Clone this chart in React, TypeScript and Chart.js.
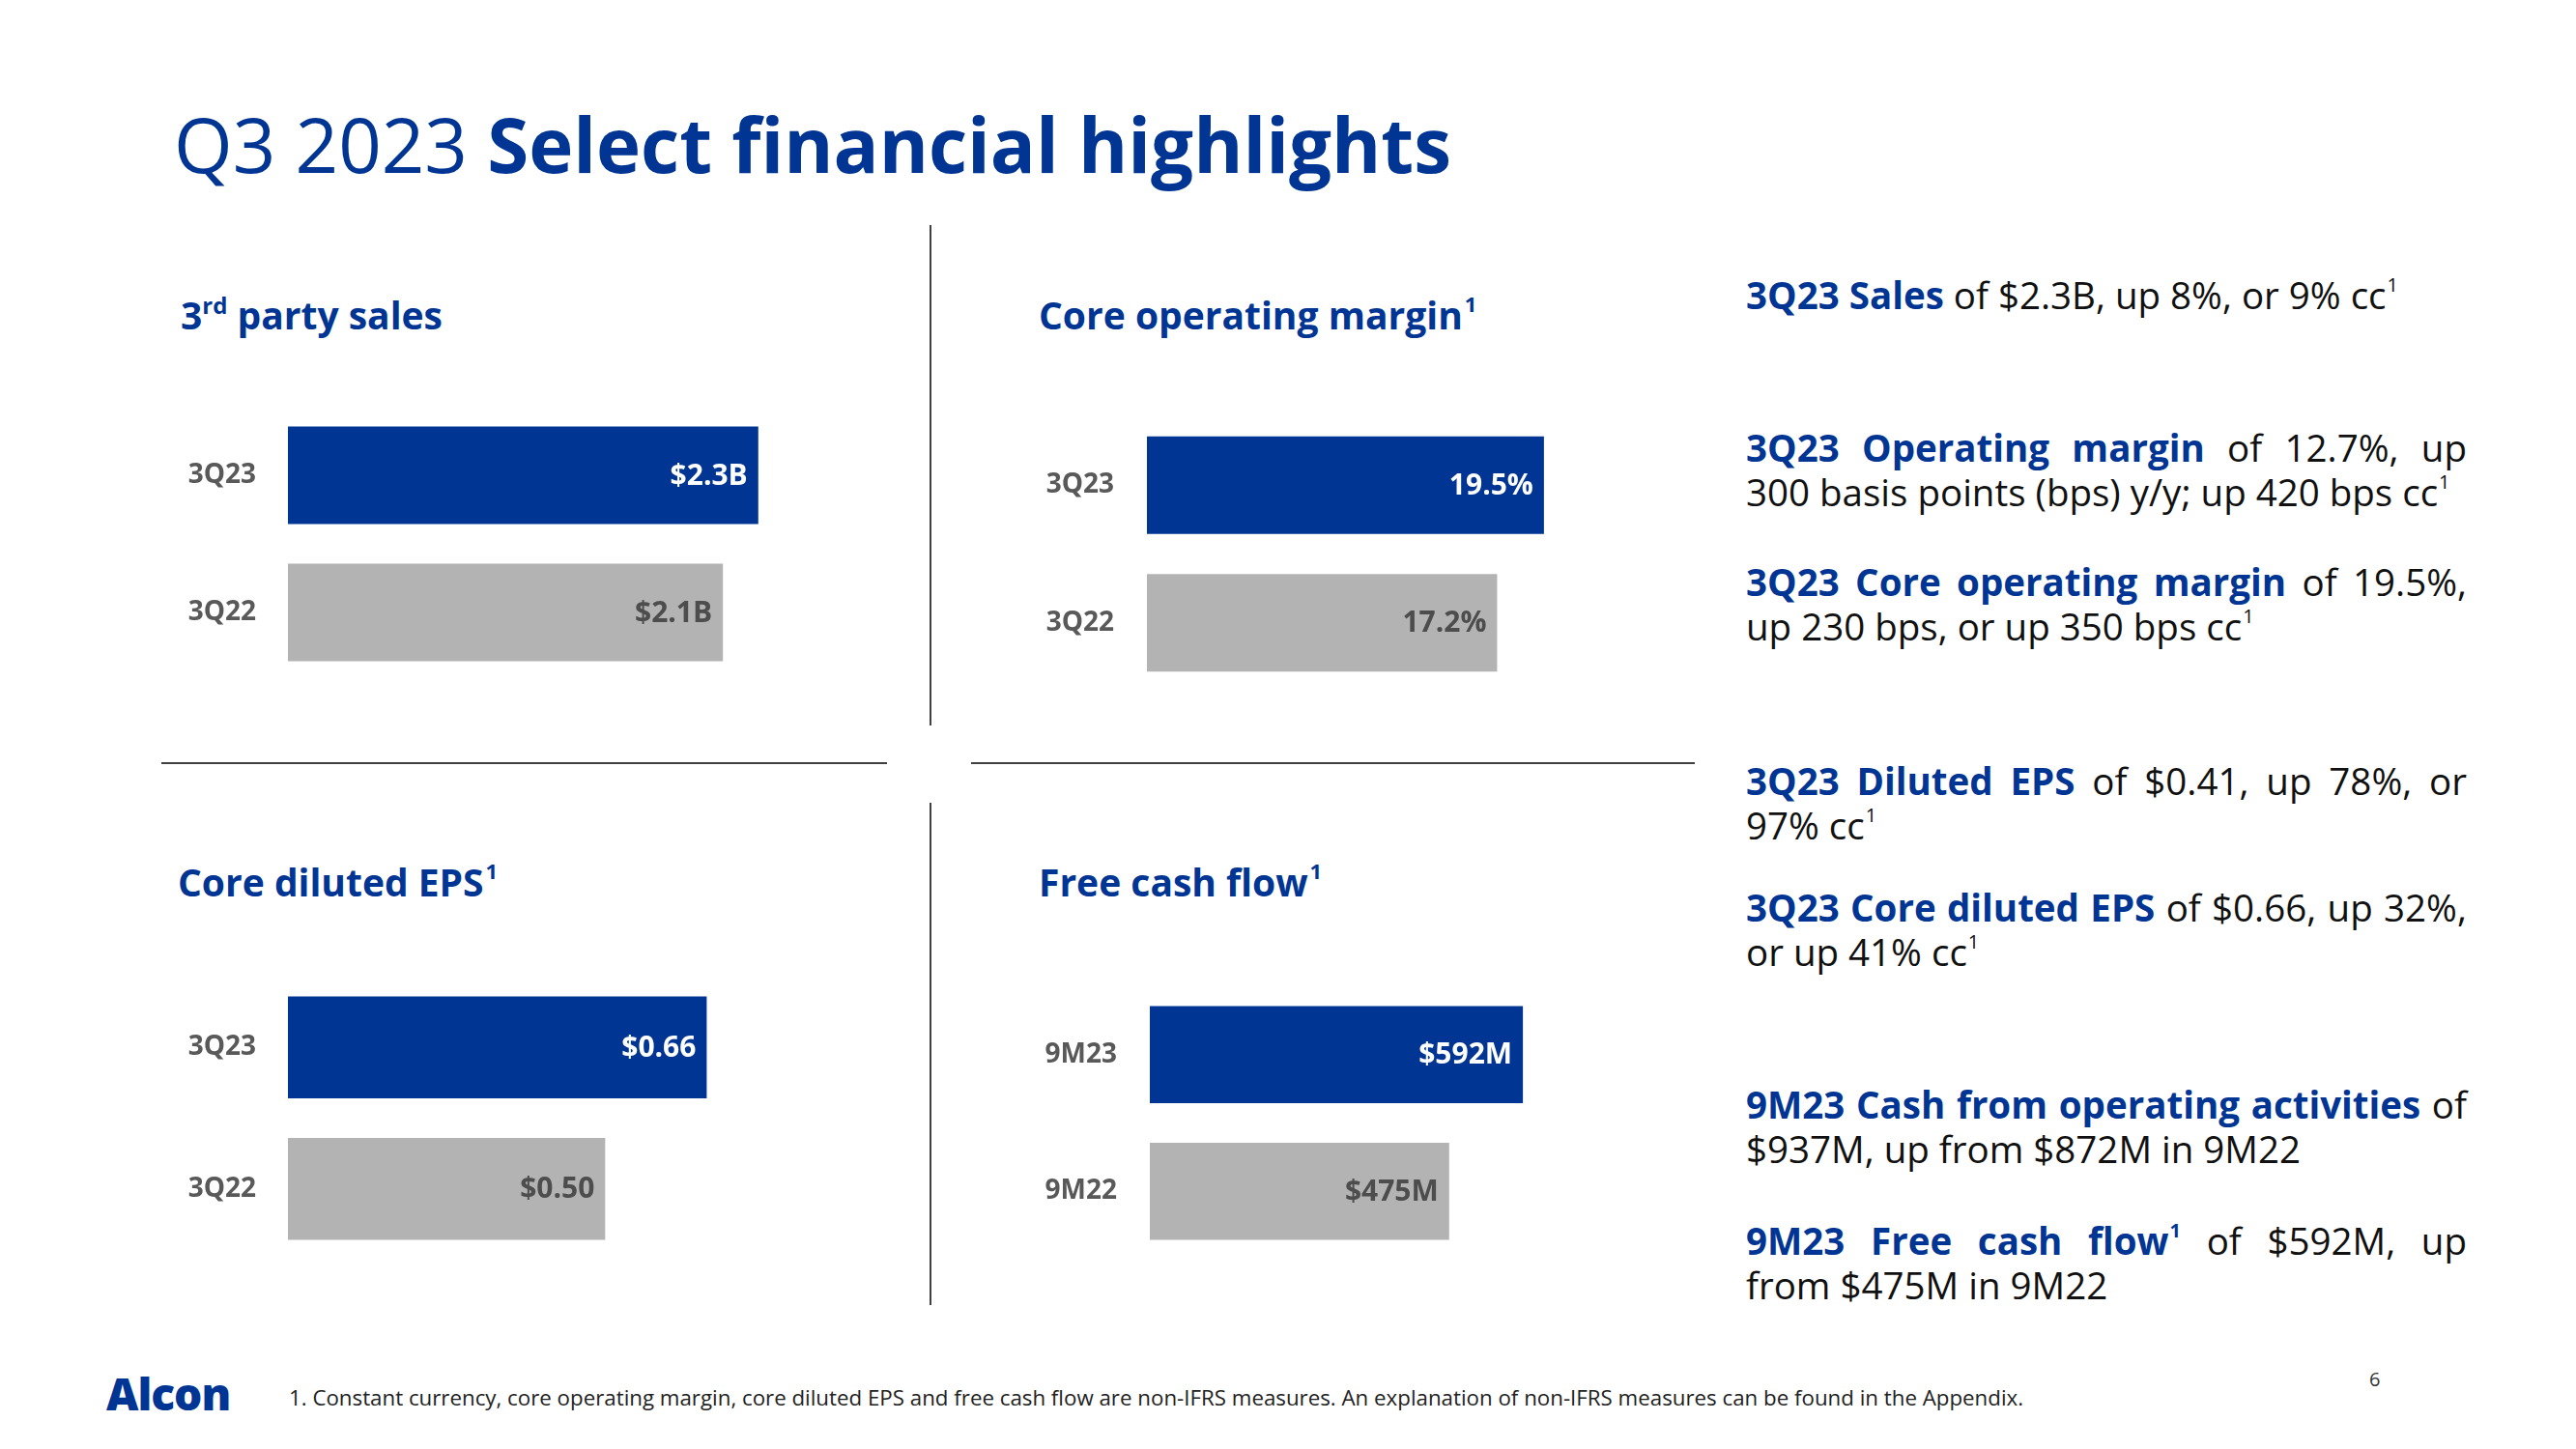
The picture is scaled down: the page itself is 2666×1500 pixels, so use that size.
import React, { useEffect, useRef } from "react";
import { Chart, registerables } from "chart.js";
Chart.register(...registerables);

// ---------- data ----------
const SALES_CATEGORIES = ["3Q23", "3Q22"];
const SALES_VALUES = [2.314, 2.14];
const SALES_LABELS = ["$2.3B", "$2.1B"];

const MARGIN_CATEGORIES = ["3Q23", "3Q22"];
const MARGIN_VALUES = [19.5, 17.2];
const MARGIN_LABELS = ["19.5%", "17.2%"];

const EPS_CATEGORIES = ["3Q23", "3Q22"];
const EPS_VALUES = [0.66, 0.5];
const EPS_LABELS = ["$0.66", "$0.50"];

const FCF_CATEGORIES = ["9M23", "9M22"];
const FCF_VALUES = [592, 475];
const FCF_LABELS = ["$592M", "$475M"];

// ---------- styles ----------
const BLUE = "#003594";
const GREY = "#b3b3b3";
const FONT = '"Open Sans", "Noto Sans", sans-serif';

type PanelProps = {
  categories: string[];
  values: number[];
  labels: string[];
  max: number;
  left: number;
  top: number;
  axisW: number;
  chartW: number;
  height: number;
  barPct: number;
  pad: number;
};

function BarPanel(p: PanelProps) {
  const ref = useRef<HTMLCanvasElement | null>(null);
  useEffect(() => {
    if (!ref.current) return;
    const labelPlugin = {
      id: "valueLabels",
      afterDatasetsDraw(chart: any) {
        const ctx = chart.ctx;
        const meta = chart.getDatasetMeta(0);
        meta.data.forEach((bar: any, i: number) => {
          ctx.save();
          ctx.font = `700 30px ${FONT}`;
          ctx.fillStyle = i === 0 ? "#ffffff" : "#4d4d4d";
          ctx.textAlign = "right";
          ctx.textBaseline = "middle";
          ctx.fillText(p.labels[i], bar.x - 11, bar.y + 1);
          ctx.restore();
        });
      },
    };
    const chart = new Chart(ref.current, {
      type: "bar",
      data: {
        labels: p.categories,
        datasets: [
          {
            data: p.values,
            backgroundColor: [BLUE, GREY],
            borderWidth: 0,
            barPercentage: p.barPct,
            categoryPercentage: 1,
          },
        ],
      },
      options: {
        indexAxis: "y",
        responsive: false,
        animation: false,
        layout: { padding: 0 },
        plugins: { legend: { display: false }, tooltip: { enabled: false } },
        scales: {
          x: { display: false, min: 0, max: p.max },
          y: {
            grid: { display: false, drawTicks: false },
            border: { display: false },
            ticks: {
              padding: p.pad,
              color: "#595959",
              font: { family: FONT, size: 28, weight: "700" },
            },
            afterFit: (s: any) => {
              s.width = p.axisW;
              s.paddingTop = 0;
              s.paddingBottom = 0;
            },
          },
        },
      },
      plugins: [labelPlugin],
    } as any);
    return () => chart.destroy();
  }, []);
  const w = p.axisW + p.chartW;
  return (
    <canvas
      ref={ref}
      width={w}
      height={p.height}
      style={{ position: "absolute", left: p.left, top: p.top, width: w, height: p.height }}
    />
  );
}

type W = { t: string; b: boolean; s?: string };
function parse(str: string): W[] {
  const out: W[] = [];
  let bold = false;
  for (const raw of str.split(" ")) {
    let w = raw;
    let sup: string | undefined;
    const ci = w.indexOf("^");
    if (ci >= 0) {
      sup = w.slice(ci + 1);
      w = w.slice(0, ci);
    }
    if (w.startsWith("**")) {
      bold = true;
      w = w.slice(2);
    }
    let b = bold;
    if (w.endsWith("**")) {
      w = w.slice(0, -2);
      bold = false;
    }
    out.push({ t: w, b, s: sup });
  }
  return out;
}

const LH = 46;
function Line({ text, justify }: { text: string; justify: boolean }) {
  const words = parse(text);
  return (
    <div
      style={{
        display: "flex",
        justifyContent: justify ? "space-between" : "flex-start",
        columnGap: justify ? 0 : "0.26em",
        height: LH,
        lineHeight: LH + "px",
        whiteSpace: "nowrap",
      }}
    >
      {words.map((w, i) => (
        <span key={i} style={{ fontWeight: w.b ? 700 : 400, color: w.b ? BLUE : "#111" }}>
          {w.t}
          {w.s && (
            <span style={{ fontSize: 20, position: "relative", top: -18, marginLeft: 1, fontWeight: w.b ? 700 : 400 }}>
              {w.s}
            </span>
          )}
        </span>
      ))}
    </div>
  );
}

function Para({ top, lines }: { top: number; lines: string[] }) {
  return (
    <div style={{ position: "absolute", left: 1807, top, width: 746, fontSize: 38.5, fontFamily: FONT }}>
      {lines.map((l, i) => (
        <Line key={i} text={l} justify={i < lines.length - 1} />
      ))}
    </div>
  );
}

function Heading({ left, top, text, sup, supFirst }: { left: number; top: number; text: string; sup: string; supFirst?: string }) {
  return (
    <div
      style={{
        position: "absolute",
        left,
        top,
        fontFamily: FONT,
        fontWeight: 700,
        fontSize: 39,
        lineHeight: "39px",
        color: BLUE,
        whiteSpace: "nowrap",
      }}
    >
      {supFirst ? (
        <>
          {supFirst}
          <span style={{ fontSize: 24, position: "relative", top: -16 }}>{sup}</span>
          {text}
        </>
      ) : (
        <>
          {text}
          <span style={{ fontSize: 22, position: "relative", top: -18, marginLeft: 2 }}>{sup}</span>
        </>
      )}
    </div>
  );
}

export default function App() {
  return (
    <div style={{ position: "relative", width: 2666, height: 1500, background: "#fff", overflow: "hidden" }}>
      <style>{`body{margin:0;background:#fff}`}</style>
      {/* Title */}
      <div
        style={{
          position: "absolute",
          left: 180,
          top: 110,
          fontFamily: FONT,
          fontSize: 78,
          lineHeight: "78px",
          color: BLUE,
          whiteSpace: "nowrap",
        }}
      >
        Q3 2023 <span style={{ fontWeight: 700 }}>Select financial highlights</span>
      </div>

      {/* dividers */}
      <div style={{ position: "absolute", left: 962, top: 233, width: 2, height: 518, background: "#404040" }} />
      <div style={{ position: "absolute", left: 962, top: 831, width: 2, height: 520, background: "#404040" }} />
      <div style={{ position: "absolute", left: 167, top: 789, width: 751, height: 2, background: "#404040" }} />
      <div style={{ position: "absolute", left: 1005, top: 789, width: 749, height: 2, background: "#404040" }} />

      {/* headings */}
      <Heading left={187} top={306} supFirst="3" sup="rd" text=" party sales" />
      <Heading left={1075} top={306} text="Core operating margin" sup="1" />
      <Heading left={184} top={893} text="Core diluted EPS" sup="1" />
      <Heading left={1075} top={893} text="Free cash flow" sup="1" />

      {/* charts */}
      <BarPanel categories={SALES_CATEGORIES} values={SALES_VALUES} labels={SALES_LABELS} max={2.8}
        left={160} top={421} axisW={138} chartW={589} height={284} barPct={0.71} pad={33} />
      <BarPanel categories={MARGIN_CATEGORIES} values={MARGIN_VALUES} labels={MARGIN_LABELS} max={28}
        left={1050} top={431} axisW={137} chartW={590} height={285} barPct={0.71} pad={34} />
      <BarPanel categories={EPS_CATEGORIES} values={EPS_VALUES} labels={EPS_LABELS} max={0.9}
        left={160} top={1011} axisW={138} chartW={591} height={293} barPct={0.72} pad={33} />
      <BarPanel categories={FCF_CATEGORIES} values={FCF_VALUES} labels={FCF_LABELS} max={900}
        left={1050} top={1021} axisW={140} chartW={587} height={283} barPct={0.71} pad={34} />

      {/* right commentary */}
      <Para top={282} lines={["**3Q23 Sales** of $2.3B, up 8%, or 9% cc^1"]} />
      <Para top={440} lines={["**3Q23 Operating margin** of 12.7%, up", "300 basis points (bps) y/y; up 420 bps cc^1"]} />
      <Para top={579} lines={["**3Q23 Core operating margin** of 19.5%,", "up 230 bps, or up 350 bps cc^1"]} />
      <Para top={785} lines={["**3Q23 Diluted EPS** of $0.41, up 78%, or", "97% cc^1"]} />
      <Para top={916} lines={["**3Q23 Core diluted EPS** of $0.66, up 32%,", "or up 41% cc^1"]} />
      <Para top={1120} lines={["**9M23 Cash from operating activities** of", "$937M, up from $872M in 9M22"]} />
      <Para top={1261} lines={["**9M23 Free cash flow**^1 of $592M, up", "from $475M in 9M22"]} />

      {/* footer */}
      <div style={{ position: "absolute", left: 110, top: 1419, fontFamily: FONT, fontWeight: 800, fontSize: 46, lineHeight: "46px", color: BLUE, letterSpacing: -1 }}>
        Alcon
      </div>
      <div style={{ position: "absolute", left: 299, top: 1434, fontFamily: FONT, fontSize: 22.3, lineHeight: "26px", color: "#222", whiteSpace: "nowrap" }}>
        1. Constant currency, core operating margin, core diluted EPS and free cash flow are non-IFRS measures. An explanation of non-IFRS measures can be found in the Appendix.
      </div>
      <div style={{ position: "absolute", left: 2452, top: 1416, fontFamily: FONT, fontSize: 20, lineHeight: "24px", color: "#333" }}>
        6
      </div>
    </div>
  );
}
